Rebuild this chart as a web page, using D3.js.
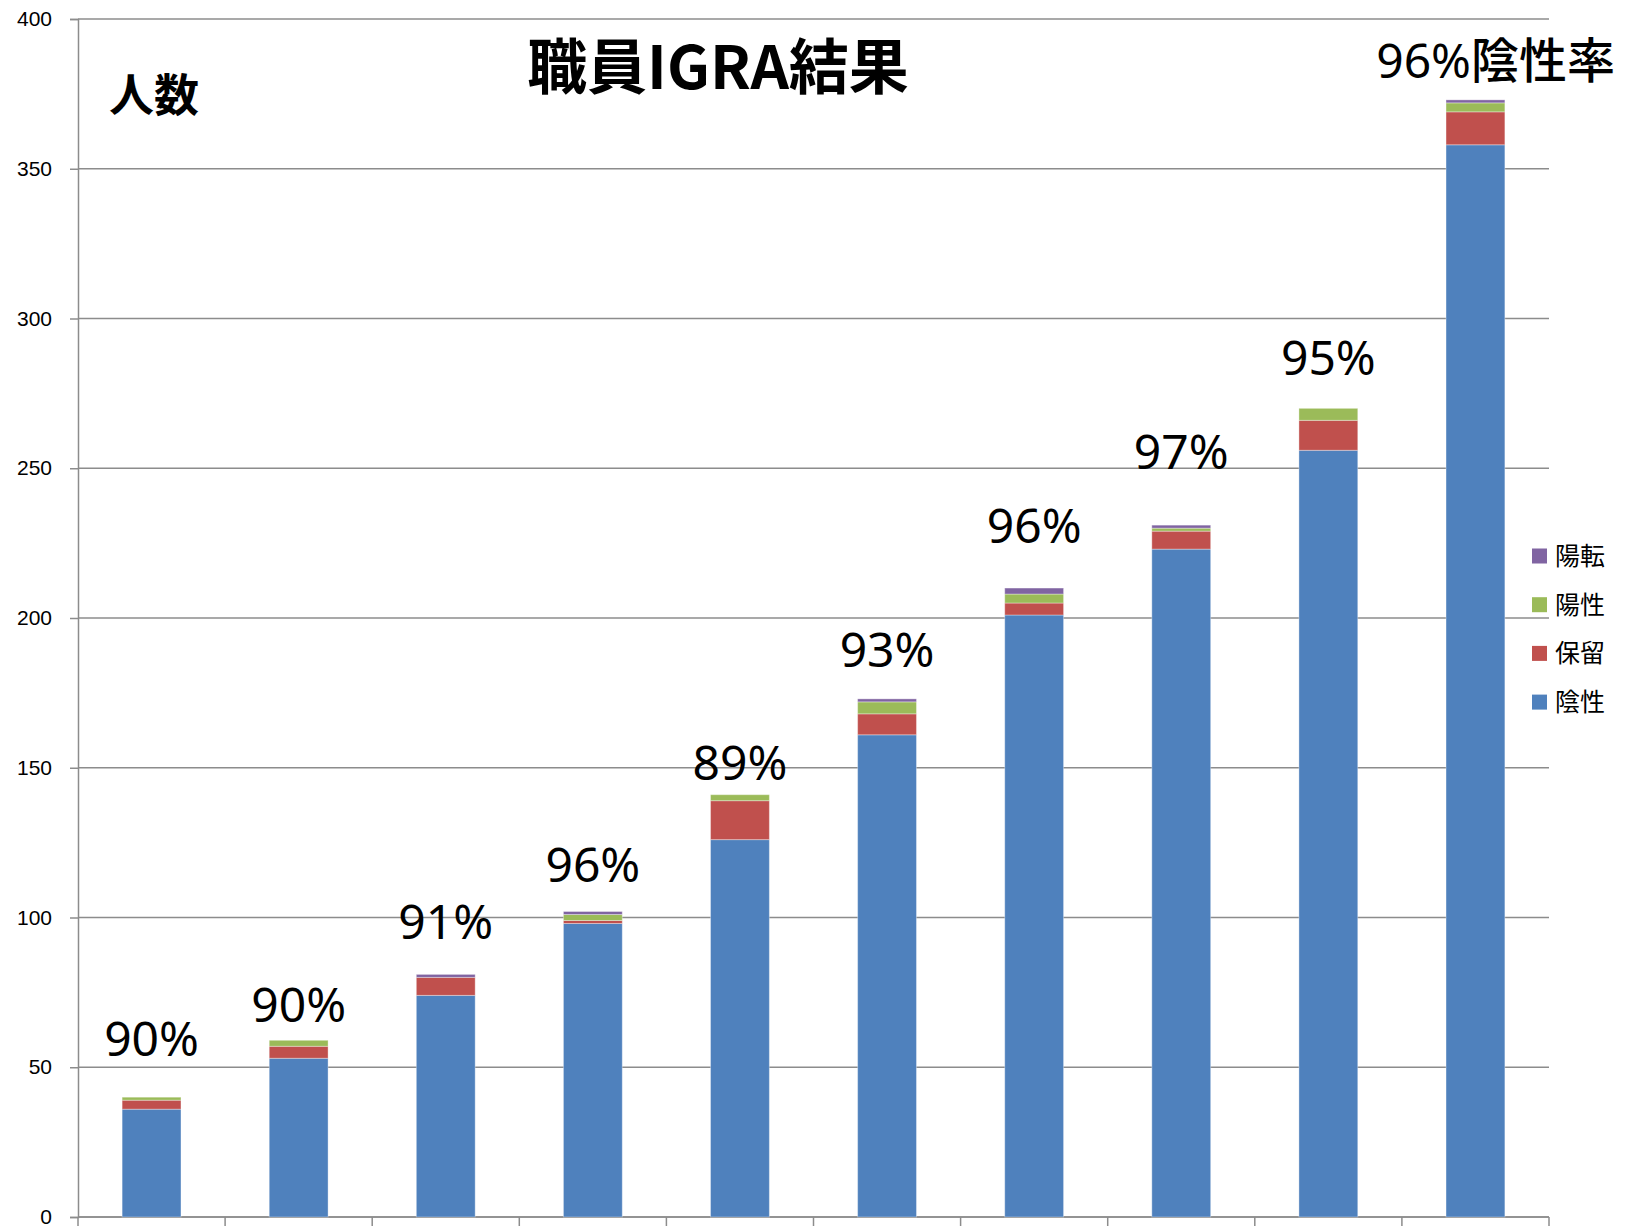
<!DOCTYPE html>
<html><head><meta charset="utf-8">
<script src="https://cdn.jsdelivr.net/npm/d3@7"></script>
<style>body{margin:0;background:#fff}svg{display:block}</style>
</head><body><svg id="c" width="1627" height="1232"></svg>
<script>
// ---- data ----
const categories = ["1","2","3","4","5","6","7","8","9","10"];
const negative  = [36, 53, 74, 98, 126, 161, 201, 223, 256, 358]; // 陰性
const pending   = [3, 4, 6, 1, 13, 7, 4, 6, 10, 11];              // 保留
const positive  = [1, 2, 0, 2, 2, 4, 3, 1, 4, 3];                 // 陽性
const converted = [0, 0, 1, 1, 0, 1, 2, 1, 0, 1];                 // 陽転
const seriesNames = ["陰性", "保留", "陽性", "陽転"];
const rateLabels = ["90%","90%","91%","96%","89%","93%","96%","97%","95%","96%"];
const rateSuffix = ["","","","","","","","","","陰性率"];
const rateLabelAt = [53.7, 65.1, 92.8, 111.9, 145.8, 183.5, 225.1, 249.7, 281.2, 380.3];
const yTicks = [0, 50, 100, 150, 200, 250, 300, 350, 400];
const chartTitle = "職員IGRA結果";
const yTitle = "人数";

(function () {
// ---- layout ----
const W = 1627, H = 1232;
const mLeft = 78, mRight = 1549, mTop = 19, mBottom = 1217;
const colors = {"陰性":"#4F81BD","保留":"#C0504D","陽性":"#9BBB59","陽転":"#8064A2"};
const gridColor = "#8c8c8c";

const svg = d3.select("#c");
const x = d3.scaleBand().domain(categories).range([mLeft, mRight]).paddingInner(0.6).paddingOuter(0.3);
const y = d3.scaleLinear().domain([0, 400]).range([mBottom, mTop]);

const rows = categories.map((c, i) => ({cat: c, "陰性": negative[i], "保留": pending[i], "陽性": positive[i], "陽転": converted[i]}));
const stacked = d3.stack().keys(seriesNames)(rows);

// gridlines
svg.append("g").selectAll("line").data(yTicks).join("line")
  .attr("x1", mLeft).attr("x2", mRight)
  .attr("y1", d => y(d)).attr("y2", d => y(d))
  .attr("stroke", gridColor).attr("stroke-width", 1.5);

// y axis
const yAxis = d3.axisLeft(y).tickValues(yTicks).tickSize(8).tickPadding(18);
const gy = svg.append("g").attr("transform", `translate(${mLeft},0)`).call(yAxis);
gy.select(".domain").attr("stroke", gridColor).attr("stroke-width", 1.5);
gy.selectAll(".tick line").attr("stroke", gridColor).attr("stroke-width", 1.5);
gy.selectAll(".tick text").attr("font-family", "Liberation Sans, Arial, sans-serif").attr("font-size", 21).attr("fill", "#000");

// x axis ticks at category boundaries
const step = x.step();
const bounds = d3.range(categories.length + 1).map(i => mLeft + i * step);
svg.append("line").attr("x1", mLeft).attr("x2", mRight).attr("y1", mBottom).attr("y2", mBottom)
  .attr("stroke", gridColor).attr("stroke-width", 1.5);
svg.append("g").selectAll("line").data(bounds).join("line")
  .attr("x1", d => d).attr("x2", d => d).attr("y1", mBottom).attr("y2", mBottom + 9)
  .attr("stroke", gridColor).attr("stroke-width", 1.5);

// bars
svg.append("g").selectAll("g").data(stacked).join("g")
  .attr("fill", d => colors[d.key])
  .selectAll("rect").data(d => d.filter(s => s[1] > s[0])).join("rect")
  .attr("x", d => x(d.data.cat)).attr("width", x.bandwidth())
  .attr("y", d => y(d[1])).attr("height", d => y(d[0]) - y(d[1]))
  .attr("stroke", "rgba(255,255,255,0.35)").attr("stroke-width", 1);

// rate labels
const lg = svg.append("g");
categories.forEach((c, i) => {
  const t = lg.append("text")
    .attr("y", y(rateLabelAt[i]))
    .attr("font-family", "Noto Sans, DejaVu Sans, sans-serif")
    .attr("font-size", 48).attr("fill", "#000");
  t.append("tspan").text(rateLabels[i]);
  const cx = x(c) + x.bandwidth() / 2;
  if (rateSuffix[i]) {
    t.append("tspan").attr("font-family", "Noto Sans CJK JP").attr("font-weight", 500).text(rateSuffix[i]);
    t.attr("text-anchor", "end").attr("x", W - 12);
  } else {
    t.attr("text-anchor", "middle").attr("x", cx);
  }
});

// title
svg.append("text").attr("x", 718).attr("y", 89).attr("text-anchor", "middle")
  .attr("font-family", "Noto Sans CJK JP").attr("font-weight", 700).attr("font-size", 60)
  .attr("fill", "#000").text(chartTitle);
svg.append("text").attr("x", 109).attr("y", 112)
  .attr("font-family", "Noto Sans CJK JP").attr("font-weight", 700).attr("font-size", 45)
  .attr("fill", "#000").text(yTitle);

// legend
const legendOrder = seriesNames.slice().reverse();
const leg = svg.append("g").selectAll("g").data(legendOrder).join("g")
  .attr("transform", (d, i) => `translate(1532,${556 + i * 48.7})`);
leg.append("rect").attr("x", 0).attr("y", -7.5).attr("width", 15).attr("height", 15).attr("fill", d => colors[d]);
leg.append("text").attr("x", 23).attr("y", 0).attr("dy", "0.36em")
  .attr("font-family", "Noto Sans CJK JP").attr("font-size", 25).attr("fill", "#000").text(d => d);
})();
</script>
</body></html>
